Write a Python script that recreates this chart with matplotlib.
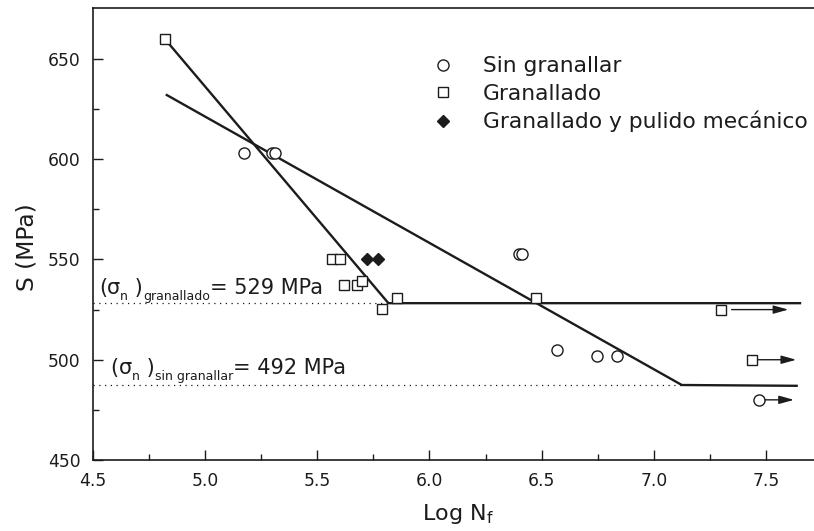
import matplotlib
matplotlib.use("Agg")
import matplotlib.pyplot as plt
from matplotlib.ticker import FixedLocator
from matplotlib.transforms import offset_copy

plt.rcParams['font.family'] = ['DejaVu Sans']
plt.rcParams['mathtext.fontset'] = 'dejavusans'

# ---- data ----
sin_x = [5.173, 5.297, 5.311, 6.399, 6.414, 6.567, 6.746, 6.835, 7.47]
sin_y = [603, 603, 603, 552.5, 552.5, 505, 502, 502, 480]

gran_x = [4.82, 5.565, 5.60, 5.62, 5.675, 5.70, 5.79, 5.854, 6.475, 7.298, 7.44]
gran_y = [660, 550, 550, 537.5, 537.5, 539.5, 525.2, 531, 531, 525, 500]

pul_x = [5.72, 5.772]
pul_y = [550, 550]

# fitted lines (bilinear)
fit_gran_x = [4.82, 5.817, 7.652]
fit_gran_y = [660, 528.2, 528.2]
fit_sin_x = [4.829, 7.125, 7.637]
fit_sin_y = [632, 487.4, 487.0]

# endurance limits (dotted guide lines)
lim_gran_x = [4.5, 5.817]
lim_gran_y = [528.2, 528.2]
lim_sin_x = [4.5, 7.125]
lim_sin_y = [487.4, 487.4]

# run-outs (arrows)
run_start_x = [7.347, 7.466, 7.495]
run_end_x = [7.60, 7.635, 7.625]
run_y = [525, 500, 480]

xticks = [4.5, 5.0, 5.5, 6.0, 6.5, 7.0, 7.5]
xminor = [4.75, 5.25, 5.75, 6.25, 6.75, 7.25]
yticks = [450, 500, 550, 600, 650]
yminor = [475, 525, 575, 625]

ink = '#1c1c1c'

fig = plt.figure(figsize=(8.14, 5.31), dpi=100)
W, H = 814, 531
left_px, right_px, top_px, bot_px = 93, 822, 8, 460
aw, ah = right_px - left_px, bot_px - top_px
ax = fig.add_axes([left_px / W, (H - bot_px) / H, aw / W, ah / H])

ax.set_xlim(4.5, 7.75)
ax.set_ylim(450, 675.4)

ax.plot(fit_gran_x, fit_gran_y, color=ink, lw=1.7, zorder=2)
ax.plot(fit_sin_x, fit_sin_y, color=ink, lw=1.7, zorder=2)
ax.plot(lim_gran_x, lim_gran_y, color=ink, lw=0.9, ls=(0, (1, 3.6)), zorder=1)
ax.plot(lim_sin_x, lim_sin_y, color=ink, lw=0.9, ls=(0, (1, 3.6)), zorder=1)

ax.plot(sin_x, sin_y, ls='none', marker='o', ms=8, mfc='white', mec=ink, mew=1.0,
        label='Sin granallar', zorder=3)
ax.plot(gran_x, gran_y, ls='none', marker='s', ms=7.5, mfc='white', mec=ink, mew=1.0,
        label='Granallado', zorder=3)
ax.plot(pul_x, pul_y, ls='none', marker='D', ms=6.5, mfc=ink, mec=ink, mew=1.0,
        label='Granallado y pulido mecánico', zorder=3)

for xs, xe, yy in zip(run_start_x, run_end_x, run_y):
    ax.annotate('', xy=(xe, yy), xytext=(xs, yy),
                arrowprops=dict(arrowstyle='-|>,head_length=0.9,head_width=0.25',
                                lw=1.0, color=ink, mutation_scale=10,
                                shrinkA=0, shrinkB=0))

renderer = fig.canvas.get_renderer()


def rich_text(x, y, parts):
    """parts: (string, fontsize, baseline shift in points)"""
    dx = 0.0
    for s, fs, dy in parts:
        tr = offset_copy(ax.transData, fig=fig, x=dx, y=dy, units='points')
        t = ax.text(x, y, s, fontsize=fs, color=ink, va='baseline', ha='left',
                    transform=tr)
        dx += t.get_window_extent(renderer).width * 72.0 / fig.dpi


MAIN, SUB, DROP = 15, 9, -4
rich_text(4.527, 532.6, [('(', MAIN, 0), ('σ', MAIN, 0), ('n', SUB, DROP),
                         (' )', MAIN, 0), ('granallado', SUB, DROP),
                         ('= 529 MPa', MAIN, 0)])
rich_text(4.579, 492.9, [('(', MAIN, 0), ('σ', MAIN, 0), ('n', SUB, DROP),
                         (' )', MAIN, 0), ('sin granallar', SUB, DROP),
                         ('= 492 MPa', MAIN, 0)])

ax.set_xticks(xticks)
ax.set_yticks(yticks)
ax.set_xticklabels([f'{v:.1f}' for v in xticks])
ax.set_yticklabels([str(v) for v in yticks])
ax.xaxis.set_minor_locator(FixedLocator(xminor))
ax.yaxis.set_minor_locator(FixedLocator(yminor))
ax.tick_params(which='both', direction='in', width=1.0, color=ink, labelcolor=ink,
               labelsize=12.3, top=False, right=False)
ax.tick_params(which='major', length=7)
ax.tick_params(which='minor', length=4)
ax.tick_params(axis='x', pad=9)
ax.tick_params(axis='y', pad=9)
for s in ax.spines.values():
    s.set_linewidth(1.2)
    s.set_color(ink)

ax.set_ylabel('S (MPa)', fontsize=16.8, color=ink)
ax.set_xlabel(r'Log N$_{\rm f}$', fontsize=16, color=ink)
ax.xaxis.set_label_coords(0.5, -(502 - bot_px) / ah)
ax.yaxis.set_label_coords(-(left_px - 39) / aw, (bot_px - 247.5) / ah)

leg = ax.legend(loc='upper left', bbox_to_anchor=(432 / W, 1 - 56.5 / H),
                bbox_transform=fig.transFigure, frameon=False, fontsize=15.7,
                handlelength=1.0, handletextpad=1.33, labelspacing=0.33,
                borderpad=0, borderaxespad=0, labelcolor=ink)

fig.savefig('out.png', dpi=100)
